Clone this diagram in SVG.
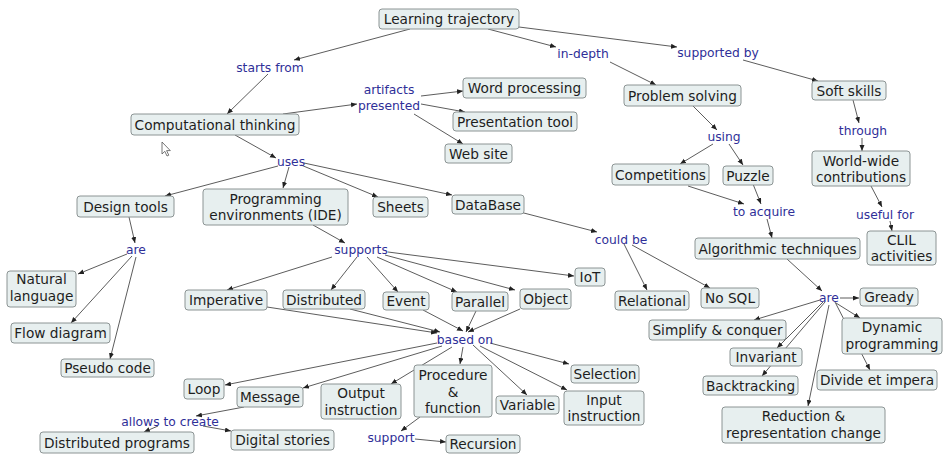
<svg xmlns="http://www.w3.org/2000/svg" width="944" height="455" viewBox="0 0 944 455">
<style>
  .e line { stroke: #4a4a4a; stroke-width: 0.9; marker-end: url(#ah); }
  .n rect { fill: #e7efef; stroke: #8c9494; stroke-width: 1; }
  .n text { font-family: "DejaVu Sans", Verdana, sans-serif; font-size: 13.7px; fill: #1e1e1e; text-anchor: middle; }
  .l text { font-family: "DejaVu Sans", Verdana, sans-serif; font-size: 12.3px; fill: #2f2f98; text-anchor: middle; }
</style>
<defs>
  <marker id="ah" markerUnits="userSpaceOnUse" markerWidth="7" markerHeight="6" refX="6" refY="2.5" orient="auto">
    <path d="M0,0 L6,2.5 L0,5 Z" fill="#222"/>
  </marker>
</defs>
<rect width="944" height="455" fill="#ffffff"/>

<!-- connectors, drawn under the concept boxes -->
<g id="connectors" class="e">
  <line x1="410" y1="29" x2="294" y2="60"/>
  <line x1="268" y1="74" x2="227" y2="114"/>
  <line x1="488" y1="29" x2="556" y2="47"/>
  <line x1="610" y1="62" x2="656" y2="85"/>
  <line x1="519" y1="27" x2="677" y2="47"/>
  <line x1="743" y1="60" x2="818" y2="81"/>
  <line x1="283" y1="114" x2="357" y2="104"/>
  <line x1="421" y1="96" x2="463" y2="91"/>
  <line x1="421" y1="104" x2="465" y2="112"/>
  <line x1="414" y1="114" x2="463" y2="144"/>
  <line x1="235" y1="135" x2="276" y2="158"/>
  <line x1="278" y1="166" x2="165" y2="196"/>
  <line x1="289" y1="167" x2="283" y2="188"/>
  <line x1="301" y1="165" x2="378" y2="197"/>
  <line x1="304" y1="163" x2="452" y2="195"/>
  <line x1="129" y1="217" x2="135" y2="243"/>
  <line x1="127" y1="254" x2="78" y2="274"/>
  <line x1="132" y1="256" x2="71" y2="323"/>
  <line x1="136" y1="257" x2="110" y2="359"/>
  <line x1="313" y1="225" x2="345" y2="243"/>
  <line x1="332" y1="257" x2="227" y2="290"/>
  <line x1="357" y1="257" x2="331" y2="290"/>
  <line x1="367" y1="257" x2="398" y2="292"/>
  <line x1="377" y1="257" x2="457" y2="292"/>
  <line x1="385" y1="255" x2="515" y2="290"/>
  <line x1="388" y1="252" x2="574" y2="276"/>
  <line x1="267" y1="307" x2="437" y2="333"/>
  <line x1="350" y1="309" x2="440" y2="332"/>
  <line x1="423" y1="310" x2="463" y2="331"/>
  <line x1="476" y1="311" x2="466" y2="332"/>
  <line x1="520" y1="309" x2="468" y2="332"/>
  <line x1="437" y1="343" x2="225" y2="385"/>
  <line x1="442" y1="346" x2="303" y2="388"/>
  <line x1="452" y1="347" x2="391" y2="384"/>
  <line x1="463" y1="347" x2="460" y2="364"/>
  <line x1="473" y1="345" x2="527" y2="395"/>
  <line x1="480" y1="346" x2="567" y2="390"/>
  <line x1="490" y1="343" x2="569" y2="364"/>
  <line x1="244" y1="407" x2="196" y2="416"/>
  <line x1="158" y1="426" x2="144" y2="432"/>
  <line x1="203" y1="426" x2="231" y2="431"/>
  <line x1="420" y1="417" x2="401" y2="431"/>
  <line x1="415" y1="439" x2="446" y2="442"/>
  <line x1="520" y1="212" x2="597" y2="232"/>
  <line x1="624" y1="244" x2="647" y2="290"/>
  <line x1="632" y1="245" x2="710" y2="288"/>
  <line x1="693" y1="106" x2="717" y2="130"/>
  <line x1="713" y1="144" x2="680" y2="164"/>
  <line x1="729" y1="144" x2="743" y2="165"/>
  <line x1="688" y1="186" x2="744" y2="204"/>
  <line x1="753" y1="184" x2="761" y2="204"/>
  <line x1="767" y1="219" x2="772" y2="238"/>
  <line x1="853" y1="100" x2="859" y2="123"/>
  <line x1="862" y1="138" x2="862" y2="151"/>
  <line x1="871" y1="186" x2="882" y2="207"/>
  <line x1="890" y1="221" x2="892" y2="231"/>
  <line x1="787" y1="259" x2="822" y2="291"/>
  <line x1="840" y1="298" x2="859" y2="298"/>
  <line x1="836" y1="303" x2="860" y2="318"/>
  <line x1="835" y1="302" x2="870" y2="370"/>
  <line x1="820" y1="300" x2="754" y2="320"/>
  <line x1="823" y1="302" x2="777" y2="348"/>
  <line x1="825" y1="302" x2="762" y2="376"/>
  <line x1="829" y1="305" x2="808" y2="406"/>
</g>

<!-- linking phrases -->
<g class="l">
  <g id="l-starts"><text x="270" y="71.5">starts from</text></g>
  <g id="l-indepth"><text x="583" y="57.5">in-depth</text></g>
  <g id="l-supportedby"><text x="718" y="56.5">supported by</text></g>
  <g id="l-artifacts"><text x="389" y="93.5">artifacts</text><text x="389" y="109.5">presented</text></g>
  <g id="l-uses"><text x="291" y="165.5">uses</text></g>
  <g id="l-using"><text x="724" y="140.5">using</text></g>
  <g id="l-through"><text x="863" y="134.5">through</text></g>
  <g id="l-toacquire"><text x="764" y="215.5">to acquire</text></g>
  <g id="l-usefulfor"><text x="885" y="218.5">useful for</text></g>
  <g id="l-are1"><text x="136" y="253.5">are</text></g>
  <g id="l-supports"><text x="361" y="253.5">supports</text></g>
  <g id="l-couldbe"><text x="621" y="243.5">could be</text></g>
  <g id="l-are2"><text x="829" y="301.5">are</text></g>
  <g id="l-basedon"><text x="465" y="343.5">based on</text></g>
  <g id="l-allows"><text x="170" y="425.5">allows to create</text></g>
  <g id="l-support"><text x="391" y="441.5">support</text></g>
</g>

<!-- concepts -->
<g class="n">
  <g id="n-lt"><rect x="379" y="9" width="140" height="20" rx="3"/><text x="449" y="24">Learning trajectory</text></g>
  <g id="n-ct"><rect x="131" y="114" width="168" height="21" rx="3"/><text x="215" y="129.5">Computational thinking</text></g>
  <g id="n-wp"><rect x="463" y="78" width="123" height="20" rx="3"/><text x="524.5" y="93">Word processing</text></g>
  <g id="n-pt"><rect x="453" y="112" width="124" height="19" rx="3"/><text x="515" y="126.5">Presentation tool</text></g>
  <g id="n-ws"><rect x="445" y="144" width="67" height="19" rx="3"/><text x="478.5" y="158.5">Web site</text></g>
  <g id="n-ps"><rect x="624" y="85" width="117" height="21" rx="3"/><text x="682.5" y="100.5">Problem solving</text></g>
  <g id="n-ss"><rect x="812" y="81" width="74" height="19" rx="3"/><text x="849" y="95.5">Soft skills</text></g>
  <g id="n-comp"><rect x="612" y="164" width="97" height="21" rx="3"/><text x="660.5" y="179.5">Competitions</text></g>
  <g id="n-puz"><rect x="723" y="166" width="50" height="19" rx="3"/><text x="748" y="180.5">Puzzle</text></g>
  <g id="n-ww"><rect x="812" y="151" width="98" height="35" rx="3"/><text x="861" y="165.5">World-wide</text><text x="861" y="182">contributions</text></g>
  <g id="n-dt"><rect x="77" y="196" width="97" height="21" rx="3"/><text x="125.5" y="211.5">Design tools</text></g>
  <g id="n-ide"><rect x="203" y="189" width="145" height="36" rx="3"/><text x="275.5" y="203.5">Programming</text><text x="275.5" y="220">environments (IDE)</text></g>
  <g id="n-sh"><rect x="373" y="197" width="55" height="20" rx="3"/><text x="400.5" y="212">Sheets</text></g>
  <g id="n-db"><rect x="452" y="195" width="72" height="19" rx="3"/><text x="488" y="209.5">DataBase</text></g>
  <g id="n-at"><rect x="695" y="238" width="165" height="21" rx="3"/><text x="777.5" y="253.5">Algorithmic techniques</text></g>
  <g id="n-clil"><rect x="867" y="231" width="69" height="34" rx="3"/><text x="901.5" y="245">CLIL</text><text x="901.5" y="261">activities</text></g>
  <g id="n-nl"><rect x="7" y="271" width="69" height="36" rx="3"/><text x="41.5" y="284">Natural</text><text x="41.5" y="301">language</text></g>
  <g id="n-fd"><rect x="11" y="323" width="99" height="20" rx="3"/><text x="60.5" y="338">Flow diagram</text></g>
  <g id="n-pc"><rect x="61" y="359" width="93" height="18" rx="3"/><text x="107.5" y="373">Pseudo code</text></g>
  <g id="n-imp"><rect x="185" y="290" width="82" height="20" rx="3"/><text x="226" y="305">Imperative</text></g>
  <g id="n-dist"><rect x="283" y="290" width="82" height="19" rx="3"/><text x="324" y="304.5">Distributed</text></g>
  <g id="n-ev"><rect x="383" y="292" width="46" height="18" rx="3"/><text x="406" y="306">Event</text></g>
  <g id="n-par"><rect x="452" y="292" width="56" height="19" rx="3"/><text x="480" y="306.5">Parallel</text></g>
  <g id="n-obj"><rect x="520" y="289" width="51" height="20" rx="3"/><text x="545.5" y="304">Object</text></g>
  <g id="n-iot"><rect x="575" y="268" width="30" height="18" rx="3"/><text x="590" y="282">IoT</text></g>
  <g id="n-rel"><rect x="615" y="291" width="74" height="19" rx="3"/><text x="652" y="305.5">Relational</text></g>
  <g id="n-nosql"><rect x="701" y="288" width="58" height="20" rx="3"/><text x="730" y="303">No SQL</text></g>
  <g id="n-gr"><rect x="860" y="288" width="58" height="18" rx="3"/><text x="889" y="302">Gready</text></g>
  <g id="n-dp"><rect x="842" y="318" width="100" height="36" rx="3"/><text x="892" y="332">Dynamic</text><text x="892" y="349">programming</text></g>
  <g id="n-sc"><rect x="649" y="320" width="137" height="20" rx="3"/><text x="717.5" y="335">Simplify &amp; conquer</text></g>
  <g id="n-inv"><rect x="730" y="348" width="72" height="18" rx="3"/><text x="766" y="362">Invariant</text></g>
  <g id="n-bt"><rect x="703" y="376" width="95" height="19" rx="3"/><text x="750.5" y="390.5">Backtracking</text></g>
  <g id="n-die"><rect x="817" y="370" width="120" height="20" rx="3"/><text x="877" y="385">Divide et impera</text></g>
  <g id="n-red"><rect x="722" y="407" width="163" height="36" rx="3"/><text x="803.5" y="421">Reduction &amp;</text><text x="803.5" y="438">representation change</text></g>
  <g id="n-loop"><rect x="184" y="379" width="40" height="20" rx="3"/><text x="204" y="394">Loop</text></g>
  <g id="n-msg"><rect x="237" y="387" width="66" height="20" rx="3"/><text x="270" y="402">Message</text></g>
  <g id="n-oi"><rect x="321" y="384" width="80" height="35" rx="3"/><text x="361" y="398">Output</text><text x="361" y="414.5">instruction</text></g>
  <g id="n-pf"><rect x="414" y="365" width="78" height="52" rx="3"/><text x="453" y="380">Procedure</text><text x="453" y="396.5">&amp;</text><text x="453" y="413">function</text></g>
  <g id="n-var"><rect x="496" y="396" width="63" height="18" rx="3"/><text x="527.5" y="410">Variable</text></g>
  <g id="n-ii"><rect x="564" y="391" width="80" height="34" rx="3"/><text x="604" y="405">Input</text><text x="604" y="421">instruction</text></g>
  <g id="n-sel"><rect x="571" y="365" width="68" height="18" rx="3"/><text x="605" y="379">Selection</text></g>
  <g id="n-dpg"><rect x="40" y="432" width="154" height="21" rx="3"/><text x="117" y="447.5">Distributed programs</text></g>
  <g id="n-ds"><rect x="231" y="430" width="103" height="20" rx="3"/><text x="282.5" y="445">Digital stories</text></g>
  <g id="n-rec"><rect x="446" y="435" width="74" height="18" rx="3"/><text x="483" y="449">Recursion</text></g>
</g>

<!-- mouse pointer -->
<path d="M162,142 L162,154 L164.8,151.3 L167,156 L168.8,155.2 L166.6,150.6 L170.3,150.6 Z" fill="#ffffff" stroke="#555" stroke-width="0.8" stroke-linejoin="round"/>
</svg>
